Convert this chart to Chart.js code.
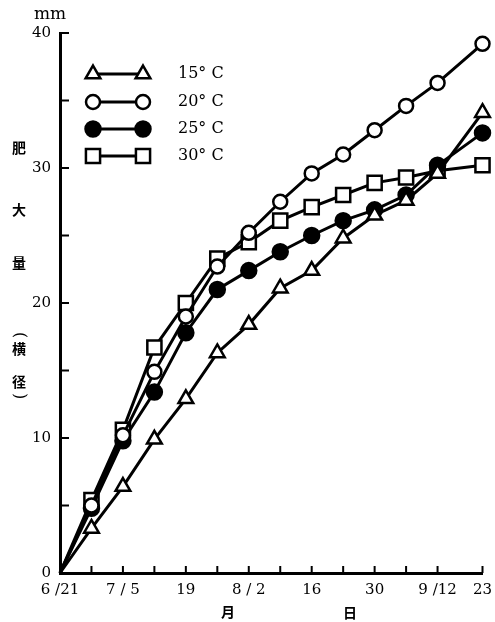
<!DOCTYPE html>
<html>
<head>
<meta charset="utf-8">
<script src="https://cdn.jsdelivr.net/npm/chart.js@4.4.1/dist/chart.umd.min.js"></script>
<style>
  html, body { margin: 0; padding: 0; background: #fff; overflow: hidden; }
  canvas { display: block; }
</style>
</head>
<body>
<canvas id="growthChart" width="495" height="622"></canvas>
<script>
// days after 6/21, one reading per week
const days = [0, 7, 14, 21, 28, 35, 42, 49, 56, 63, 70, 77, 84, 94];
const xTickLabels = ['6 /21', '', '7 / 5', '', '19', '', '8 / 2', '', '16', '', '30', '', '9 /12', '23'];
const yTicks = [0, 5, 10, 15, 20, 25, 30, 35, 40];
const yTickLabels = ['0', '', '10', '', '20', '', '30', '', '40'];
const seriesNames = ['15° C', '20° C', '25° C', '30° C'];

const t15 = [0, 3.3, 6.4, 9.9, 12.9, 16.3, 18.4, 21.1, 22.4, 24.8, 26.5, 27.6, 29.6, 34.1];
const t20 = [0, 5.0, 10.2, 14.9, 19.0, 22.7, 25.2, 27.5, 29.6, 31.0, 32.8, 34.6, 36.3, 39.2];
const t25 = [0, 4.8, 9.8, 13.4, 17.8, 21.0, 22.4, 23.8, 25.0, 26.1, 26.9, 28.0, 30.2, 32.6];
const t30 = [0, 5.4, 10.6, 16.7, 20.0, 23.3, 24.5, 26.1, 27.1, 28.0, 28.9, 29.3, 29.8, 30.2];

const SERIF = '"DejaVu Serif", "Liberation Serif", serif';
const CJK = '"Noto Sans CJK JP", sans-serif';

function pts(vals) {
  return vals.map((v, i) => ({ x: days[i], y: v }));
}

function series(label, vals, style, radius, fill) {
  return {
    label,
    data: pts(vals),
    borderColor: '#000',
    borderWidth: 3,
    pointStyle: style,
    // no marker at the common origin
    pointRadius: ctx => (ctx.dataIndex === 0 ? 0 : radius),
    legendRadius: radius,
    pointBorderWidth: 2.5,
    pointBorderColor: '#000',
    pointBackgroundColor: fill,
    tension: 0,
    clip: false,
  };
}

// inward tick marks, x labels (allowed to run off the right edge), legend, free text
const decorations = {
  id: 'decorations',
  afterDraw(chart) {
    const { ctx, chartArea, scales } = chart;
    ctx.save();
    ctx.strokeStyle = '#000';
    ctx.lineWidth = 2;
    ctx.beginPath();
    yTicks.forEach(v => {
      const y = scales.y.getPixelForValue(v);
      ctx.moveTo(chartArea.left, y);
      ctx.lineTo(chartArea.left + 9, y);
    });
    days.forEach(d => {
      const x = scales.x.getPixelForValue(d);
      ctx.moveTo(x, chartArea.bottom);
      ctx.lineTo(x, chartArea.bottom - 7);
    });
    ctx.stroke();

    ctx.fillStyle = '#000';
    ctx.font = '15px ' + SERIF;
    ctx.textAlign = 'center';
    ctx.textBaseline = 'middle';
    days.forEach((d, i) => {
      if (xTickLabels[i]) ctx.fillText(xTickLabels[i], scales.x.getPixelForValue(d), chartArea.bottom + 17);
    });

    // legend
    const rows = [74, 102, 129, 156];
    chart.data.datasets.forEach((ds, i) => {
      const y = rows[i];
      ctx.strokeStyle = '#000';
      ctx.lineWidth = 3;
      ctx.beginPath();
      ctx.moveTo(93, y);
      ctx.lineTo(143, y);
      ctx.stroke();
      [93, 143].forEach(x => {
        ctx.fillStyle = ds.pointBackgroundColor;
        ctx.lineWidth = 2.5;
        Chart.helpers.drawPoint(ctx, { pointStyle: ds.pointStyle, radius: ds.legendRadius, rotation: 0, borderWidth: 2.5 }, x, y);
      });
      ctx.fillStyle = '#000';
      ctx.font = '16px ' + SERIF;
      ctx.textAlign = 'left';
      ctx.textBaseline = 'middle';
      ctx.fillText(ds.label, 178, y);
    });

    ctx.fillStyle = '#000';
    ctx.textAlign = 'center';
    ctx.textBaseline = 'middle';
    ctx.font = '17px ' + SERIF;
    ctx.fillText('mm', 50, 15);

    ctx.font = 'bold 14px ' + CJK;
    [['肥', 148], ['大', 210], ['量', 263], ['横', 349], ['径', 382]]
      .forEach(([ch, y]) => ctx.fillText(ch, 19, y));
    // vertical brackets around 横径
    ctx.font = '16px ' + SERIF;
    [['(', 335], [')', 396]].forEach(([ch, y]) => {
      ctx.save();
      ctx.translate(19, y);
      ctx.rotate(Math.PI / 2);
      ctx.fillText(ch, 0, 0);
      ctx.restore();
    });
    ctx.font = 'bold 14px ' + CJK;
    ctx.fillText('月', 228, 612);
    ctx.fillText('日', 350, 613);
    ctx.restore();
  }
};

new Chart(document.getElementById('growthChart'), {
  type: 'line',
  data: {
    datasets: [
      series(seriesNames[0], t15, 'triangle', 8.5, '#fff'),
      series(seriesNames[1], t20, 'circle', 7, '#fff'),
      series(seriesNames[2], t25, 'circle', 7.5, '#000'),
      series(seriesNames[3], t30, 'rect', 10, '#fff'),
    ]
  },
  options: {
    responsive: false,
    animation: false,
    devicePixelRatio: 1,
    layout: { padding: { top: 33, right: 5, left: 0, bottom: 0 } },
    plugins: { legend: { display: false }, tooltip: { enabled: false } },
    scales: {
      x: {
        type: 'linear',
        min: 0,
        max: 94,
        grid: { display: false, drawTicks: false },
        border: { color: '#000', width: 3 },
        afterBuildTicks: s => { s.ticks = days.map(v => ({ value: v })); },
        afterFit: s => { s.height = 49; },
        ticks: { display: false }
      },
      y: {
        min: 0,
        max: 40,
        grid: { display: false, drawTicks: false },
        border: { color: '#000', width: 3 },
        afterBuildTicks: s => { s.ticks = yTicks.map(v => ({ value: v })); },
        afterFit: s => { s.width = 60; },
        ticks: {
          padding: 9,
          color: '#000',
          font: { family: SERIF, size: 15 },
          callback: (v, i) => yTickLabels[i],
        }
      }
    }
  },
  plugins: [decorations]
});
</script>
</body>
</html>
